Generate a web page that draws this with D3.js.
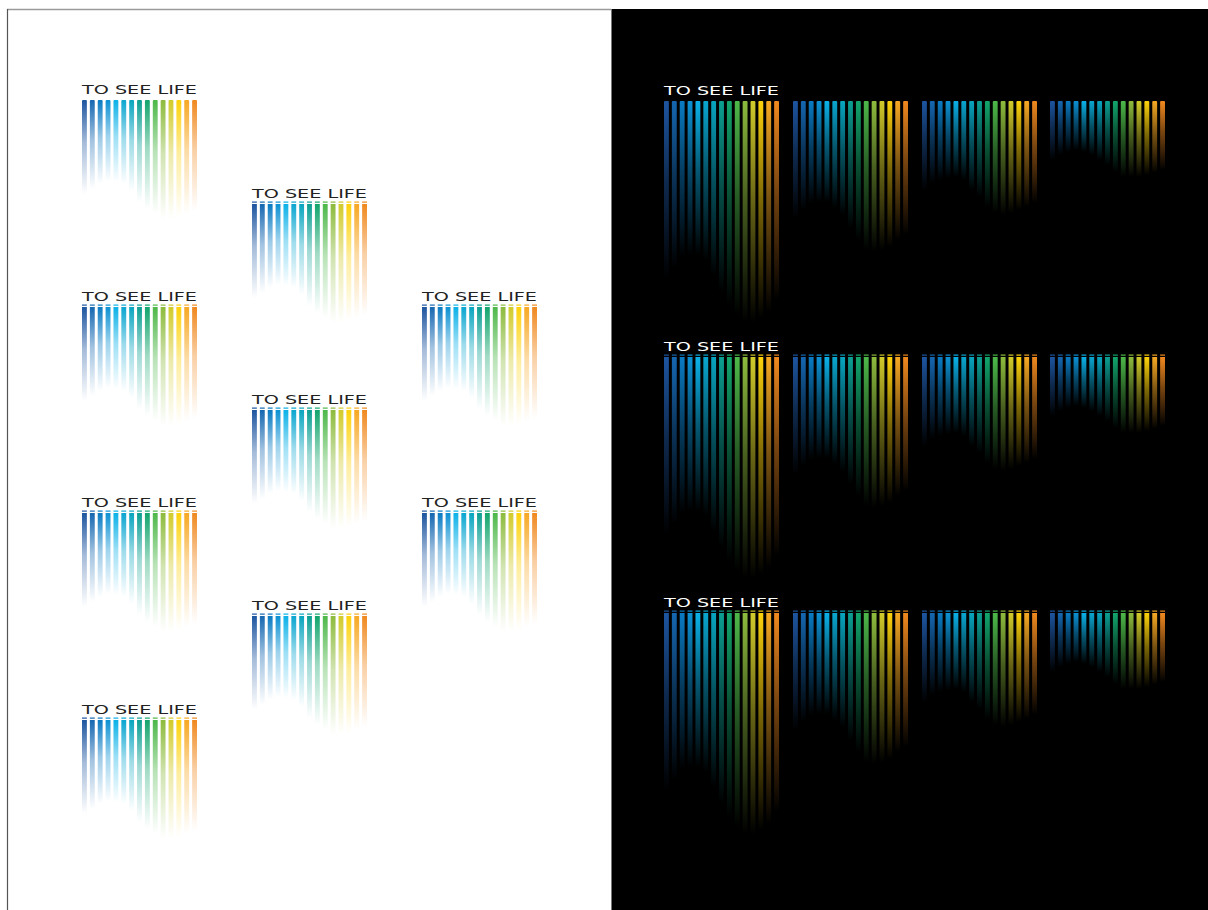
<!DOCTYPE html>
<html>
<head>
<meta charset="utf-8">
<script src="https://cdn.jsdelivr.net/npm/d3@7"></script>
<style>
  html, body { margin: 0; padding: 0; background: #fff; }
  svg { display: block; }
</style>
</head>
<body>
<div id="chart"></div>
<script>
// 15 Streifen des Logos, Farben von links nach rechts
const barColors = ["#1d55a0", "#1567b1", "#0a7bc3", "#0c91d3", "#0bb1e8", "#0aa6d0", "#08a5bf",
                   "#0c9f93", "#12a56c", "#4db849", "#8dbb3d", "#d1cb2b", "#fdd20b", "#f7a823", "#f0891f"];

const logoText = "TO SEE LIFE";

// Streifenlängen (px) – helle Variante
const whiteLengths = [94, 89, 84, 81, 82, 84, 91, 102, 109, 114, 119, 119, 117, 114, 111];

// Streifenlängen (px) – dunkle Varianten, Spalte 1 bis 4
const blackLengths1 = [177, 167, 156, 154, 154, 159, 174, 191, 204, 214, 221, 221, 217, 211, 199];
const blackLengths2 = [117, 109, 102, 101, 101, 107, 114, 127, 139, 149, 151, 149, 146, 139, 134];
const blackLengths3 = [89, 82, 79, 77, 76, 79, 89, 96, 106, 112, 114, 112, 109, 106, 102];
const blackLengths4 = [59, 54, 51, 49, 51, 54, 59, 64, 71, 76, 76, 76, 74, 72, 69];

const W = 1208, H = 910;

const svg = d3.select("#chart").append("svg")
    .attr("width", W)
    .attr("height", H);

const defs = svg.append("defs");

// Verläufe: Farbe oben, nach unten ausblenden
function makeGradients(prefix, mid) {
    barColors.forEach((c, i) => {
        const g = defs.append("linearGradient")
            .attr("id", `${prefix}${i}`)
            .attr("x1", 0).attr("y1", 0).attr("x2", 0).attr("y2", 1);
        g.append("stop").attr("offset", "0%").attr("stop-color", c).attr("stop-opacity", 1);
        g.append("stop").attr("offset", "45%").attr("stop-color", c).attr("stop-opacity", mid);
        g.append("stop").attr("offset", "100%").attr("stop-color", c).attr("stop-opacity", 0);
    });
}
makeGradients("gw", 0.4);
makeGradients("gb", 0.5);

// Rahmen und schwarze Fläche
svg.append("rect").attr("x", 611).attr("y", 9).attr("width", W - 611).attr("height", H - 9).attr("fill", "#000");
svg.append("line").attr("x1", 7).attr("x2", 611).attr("y1", 9.5).attr("y2", 9.5).attr("stroke", "#9a9a9a").attr("stroke-width", 1.5);
svg.append("line").attr("x1", 7.5).attr("x2", 7.5).attr("y1", 9).attr("y2", H).attr("stroke", "#555").attr("stroke-width", 1.2);
svg.append("line").attr("x1", 611.5).attr("x2", 611.5).attr("y1", 9).attr("y2", H).attr("stroke", "#777").attr("stroke-width", 1);

const xScale = d3.scaleBand()
    .domain(d3.range(barColors.length))
    .range([0, 115])
    .paddingInner(0.38)
    .paddingOuter(0);

function drawLogo(x0, y0, lengths, opts) {
    const g = svg.append("g").attr("transform", `translate(${x0}, ${y0})`);
    const yScale = d3.scaleLinear().domain([0, 1]).range([0, 1]);

    if (opts.label) {
        g.append("text")
            .attr("x", 0)
            .attr("y", -6)
            .attr("textLength", 115)
            .attr("lengthAdjust", "spacingAndGlyphs")
            .attr("font-family", "DejaVu Sans, sans-serif")
            .attr("font-size", "12.5px")
            .attr("fill", opts.dark ? "#fff" : "#222")
            .text(logoText);
    }

    if (opts.dash) {
        g.selectAll("rect.dash")
            .data(barColors)
            .enter()
            .append("rect")
            .attr("class", "dash")
            .attr("x", (d, i) => xScale(i))
            .attr("y", -2.5)
            .attr("width", xScale.bandwidth())
            .attr("height", 1.2)
            .attr("fill", d => d);
    }

    g.selectAll("rect.bar")
        .data(lengths)
        .enter()
        .append("rect")
        .attr("class", "bar")
        .attr("x", (d, i) => xScale(i))
        .attr("y", 0)
        .attr("width", xScale.bandwidth())
        .attr("height", d => yScale(d))
        .attr("rx", opts.dash ? 0 : 1)
        .attr("fill", (d, i) => `url(#${opts.dark ? "gb" : "gw"}${i})`);
}

// helle Seite: 10 Logos
const whiteSpots = [
    [82, 100, false], [82, 307, true], [82, 513, true], [82, 720, true],
    [252, 204, true], [252, 410, true], [252, 616, true],
    [422, 307, true], [422, 513, true]
];
whiteSpots.forEach(s => drawLogo(s[0], s[1], whiteLengths, { label: true, dash: s[2], dark: false }));

// dunkle Seite: 3 Reihen x 4 Spalten
const blackCols = [664, 793, 922, 1050];
const blackRows = [101, 357, 613];
const blackSets = [blackLengths1, blackLengths2, blackLengths3, blackLengths4];
blackRows.forEach((ry, r) => {
    blackCols.forEach((cx, c) => {
        drawLogo(cx, ry, blackSets[c], { label: c === 0, dash: r > 0, dark: true });
    });
});
</script>
</body>
</html>
